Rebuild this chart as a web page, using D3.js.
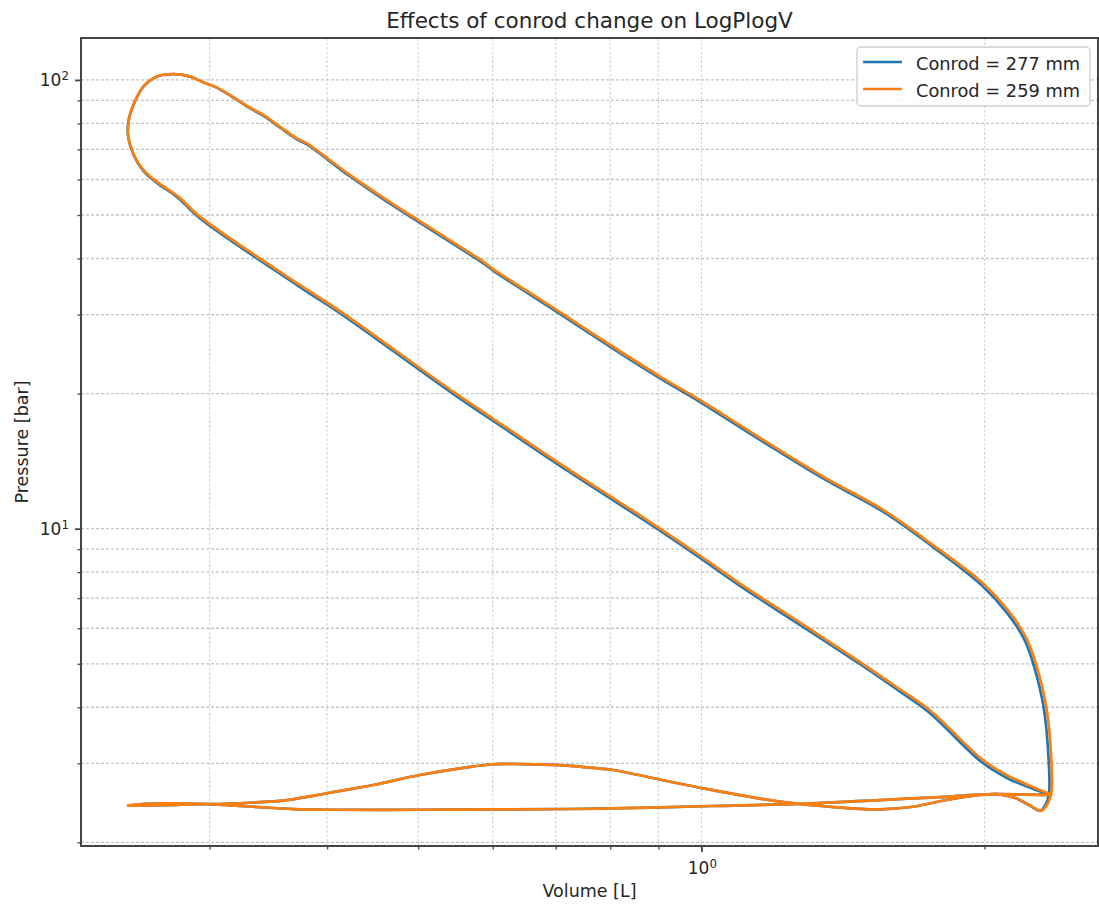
<!DOCTYPE html>
<html>
<head>
<meta charset="utf-8">
<script src="https://cdn.jsdelivr.net/npm/d3@7/dist/d3.min.js"></script>
<style>
  body { margin: 0; background: #fff; }
  svg { display: block; }
  text { font-family: "DejaVu Sans", sans-serif; fill: #262626; }
</style>
</head>
<body>
<svg id="chart" width="1099" height="909"></svg>
<script>
// One engine cycle per series, in crank order:
// intake, compression, combustion + expansion, blowdown and exhaust.

// Conrod = 259 mm
const volume259 = [
  0.2458, 0.2701, 0.3027, 0.3338, 0.3681, 0.4060, 0.5020, 0.6005, 0.7796, 1.029, 1.314, 1.547, 1.821, 2.009, 2.345,
  2.355, 2.127, 1.992, 1.748, 1.624, 1.485, 1.325, 1.098, 0.9879, 0.8813, 0.7244, 0.6256, 0.5445, 0.4160, 0.3742,
  0.2930, 0.2779, 0.2636, 0.2551, 0.2489, 0.2458, 0.2464,
  0.2499, 0.2551, 0.2636, 0.2745, 0.2859, 0.2953, 0.3040, 0.3153, 0.3285, 0.3421, 0.3564, 0.3712, 0.3804, 0.4229,
  0.4627, 0.5860, 0.6005, 0.7014, 0.8254, 0.9103, 0.9958, 1.163, 1.347, 1.560, 1.762, 1.992, 2.127, 2.215, 2.270,
  2.326, 2.355, 2.355,
  2.335, 2.298, 2.233, 2.162, 2.075, 1.976, 1.821, 1.679, 1.547, 1.369, 1.211, 1.004, 0.8055, 0.7796, 0.7071,
  0.6458, 0.6005, 0.5631, 0.5020, 0.4477, 0.4027, 0.3625, 0.3311, 0.3027, 0.2701, 0.2530, 0.2458
];
const pressure259 = [
  2.414, 2.422, 2.431, 2.401, 2.373, 2.364, 2.364, 2.369, 2.377, 2.410, 2.443, 2.485, 2.527, 2.559, 2.550,
  2.550, 2.801, 3.051, 3.944, 4.393, 4.994, 5.847, 7.553, 8.816, 10.36, 13.51, 16.60, 20.20, 30.20, 34.92,
  49.59, 54.95, 59.34, 63.01, 68.66, 75.42, 82.17,
  89.50, 96.62, 101.7, 102.97, 101.7, 98.83, 96.62, 92.60, 87.60, 83.56, 78.70, 74.16, 72.28, 61.42,
  54.03, 39.37, 37.90, 30.72, 24.60, 21.63, 19.36, 15.77, 13.06, 11.01, 9.199, 7.553, 6.505, 5.707, 4.968,
  4.011, 3.051, 2.572,
  2.443, 2.352, 2.422, 2.507, 2.559, 2.550, 2.485, 2.401, 2.369, 2.401, 2.464, 2.639, 2.899, 2.921, 2.974,
  2.989, 2.986, 2.939, 2.826, 2.684, 2.580, 2.485, 2.451, 2.435, 2.443, 2.431, 2.414
];

// Conrod = 277 mm
const volume277 = [
  0.2458, 0.2701, 0.3027, 0.3338, 0.3681, 0.4060, 0.5020, 0.6005, 0.7796, 1.029, 1.314, 1.547, 1.821, 2.009, 2.335,
  2.340, 2.115, 1.985, 1.745, 1.622, 1.483, 1.323, 1.097, 0.9870, 0.8805, 0.7238, 0.6251, 0.5441, 0.4157, 0.3740,
  0.2929, 0.2778, 0.2635, 0.2550, 0.2488, 0.2457, 0.2463,
  0.2499, 0.2551, 0.2636, 0.2745, 0.2859, 0.2953, 0.3040, 0.3153, 0.3285, 0.3421, 0.3564, 0.3712, 0.3804, 0.4229,
  0.4627, 0.5860, 0.6005, 0.7014, 0.8254, 0.9103, 0.9958, 1.163, 1.347, 1.560, 1.762, 1.985, 2.118, 2.205, 2.258,
  2.312, 2.340, 2.342,
  2.325, 2.292, 2.230, 2.160, 2.075, 1.976, 1.821, 1.679, 1.547, 1.369, 1.211, 1.004, 0.8055, 0.7796, 0.7071,
  0.6458, 0.6005, 0.5631, 0.5020, 0.4477, 0.4027, 0.3625, 0.3311, 0.3027, 0.2701, 0.2530, 0.2458
];
const pressure277 = [
  2.414, 2.422, 2.431, 2.401, 2.373, 2.364, 2.364, 2.369, 2.377, 2.410, 2.443, 2.485, 2.527, 2.559, 2.550,
  2.550, 2.780, 3.020, 3.900, 4.350, 4.950, 5.790, 7.480, 8.730, 10.26, 13.38, 16.44, 20.00, 29.92, 34.60,
  49.20, 54.60, 59.05, 62.80, 68.50, 75.30, 82.10,
  89.50, 96.62, 101.7, 102.97, 101.7, 98.83, 96.50, 92.40, 87.35, 83.25, 78.35, 73.80, 71.90, 61.00,
  53.60, 39.05, 37.60, 30.45, 24.38, 21.44, 19.18, 15.62, 12.94, 10.91, 9.110, 7.490, 6.450, 5.660, 4.930,
  3.980, 3.030, 2.570,
  2.440, 2.352, 2.422, 2.507, 2.559, 2.550, 2.485, 2.401, 2.369, 2.401, 2.464, 2.639, 2.899, 2.921, 2.974,
  2.989, 2.986, 2.939, 2.826, 2.684, 2.580, 2.485, 2.451, 2.435, 2.443, 2.431, 2.414
];

const seriesLabels = ["Conrod = 277 mm", "Conrod = 259 mm"];
const seriesColors = ["#1f77b4", "#ff7f0e"];

const xMajorTicks = [1];
const xMinorTicks = [0.3, 0.4, 0.5, 0.6, 0.7, 0.8, 0.9, 2];
const yMajorTicks = [10, 100];
const yMinorTicks = [2, 3, 4, 5, 6, 7, 8, 9, 20, 30, 40, 50, 60, 70, 80, 90];

const titleText = "Effects of conrod change on LogPlogV";
const xLabelText = "Volume [L]";
const yLabelText = "Pressure [bar]";

// ---- layout ----
const plot = { left: 81, right: 1098, top: 38, bottom: 846 };
const svg = d3.select("#chart");

const x = d3.scaleLog().domain([0.219, 2.64]).range([plot.left, plot.right]);
const y = d3.scaleLog().domain([1.963, 124]).range([plot.bottom, plot.top]);

// grid
const grid = svg.append("g");
grid.selectAll("line.gx")
  .data(xMajorTicks.concat(xMinorTicks))
  .join("line")
  .attr("x1", d => x(d)).attr("x2", d => x(d))
  .attr("y1", plot.top).attr("y2", plot.bottom)
  .attr("stroke", "#d4d4d4").attr("stroke-width", 1.2)
  .attr("stroke-dasharray", "2.5,2");
grid.selectAll("line.gy")
  .data(yMajorTicks.concat(yMinorTicks))
  .join("line")
  .attr("x1", plot.left).attr("x2", plot.right)
  .attr("y1", d => y(d)).attr("y2", d => y(d))
  .attr("stroke", "#c4c4c4").attr("stroke-width", 1.3)
  .attr("stroke-dasharray", "3,2");

// data
svg.append("defs").append("clipPath").attr("id", "plotClip")
  .append("rect")
  .attr("x", plot.left).attr("y", plot.top)
  .attr("width", plot.right - plot.left).attr("height", plot.bottom - plot.top);

const line = d3.line()
  .x(d => x(d[0]))
  .y(d => y(d[1]))
  .curve(d3.curveCatmullRom.alpha(0.5));

const series = [
  d3.zip(volume277, pressure277),
  d3.zip(volume259, pressure259)
];

svg.append("g").attr("clip-path", "url(#plotClip)")
  .selectAll("path")
  .data(series)
  .join("path")
  .attr("d", line)
  .attr("fill", "none")
  .attr("stroke", (d, i) => seriesColors[i])
  .attr("stroke-width", 2.7)
  .attr("stroke-linejoin", "round")
  .attr("stroke-linecap", "round");

// frame
svg.append("rect")
  .attr("x", plot.left).attr("y", plot.top)
  .attr("width", plot.right - plot.left).attr("height", plot.bottom - plot.top)
  .attr("fill", "none").attr("stroke", "#454545").attr("stroke-width", 2);

// axes
const xAxisMajor = d3.axisBottom(x).tickValues(xMajorTicks).tickSize(6).tickFormat("");
const xAxisMinor = d3.axisBottom(x).tickValues(xMinorTicks).tickSize(3.5).tickFormat("");
const yAxisMajor = d3.axisLeft(y).tickValues(yMajorTicks).tickSize(6).tickFormat("");
const yAxisMinor = d3.axisLeft(y).tickValues(yMinorTicks).tickSize(3.5).tickFormat("");

function styleAxis(g, w) {
  g.select(".domain").remove();
  g.selectAll(".tick line").attr("stroke", "#454545").attr("stroke-width", w);
}
svg.append("g").attr("transform", `translate(0,${plot.bottom})`).call(xAxisMajor).call(g => styleAxis(g, 1.8));
svg.append("g").attr("transform", `translate(0,${plot.bottom})`).call(xAxisMinor).call(g => styleAxis(g, 1.3));
svg.append("g").attr("transform", `translate(${plot.left},0)`).call(yAxisMajor).call(g => styleAxis(g, 1.8));
svg.append("g").attr("transform", `translate(${plot.left},0)`).call(yAxisMinor).call(g => styleAxis(g, 1.3));

// tick labels as 10^n
function powerLabel(sel, v) {
  const n = Math.round(Math.log10(v));
  sel.append("tspan").text("10");
  sel.append("tspan").attr("dy", "-0.5em").attr("font-size", "0.7em").text(n);
}
yMajorTicks.forEach(v => {
  svg.append("text")
    .attr("x", plot.left - 12).attr("y", y(v) + 6)
    .attr("text-anchor", "end").attr("font-size", 17)
    .call(powerLabel, v);
});
xMajorTicks.forEach(v => {
  svg.append("text")
    .attr("x", x(v) + 1).attr("y", plot.bottom + 28)
    .attr("text-anchor", "middle").attr("font-size", 17)
    .call(powerLabel, v);
});

// titles
svg.append("text")
  .attr("x", (plot.left + plot.right) / 2).attr("y", 28)
  .attr("text-anchor", "middle").attr("font-size", 21.5)
  .text(titleText);
svg.append("text")
  .attr("x", (plot.left + plot.right) / 2).attr("y", 897)
  .attr("text-anchor", "middle").attr("font-size", 17.5)
  .text(xLabelText);
svg.append("text")
  .attr("transform", `translate(28,${(plot.top + plot.bottom) / 2}) rotate(-90)`)
  .attr("text-anchor", "middle").attr("font-size", 17.5)
  .text(yLabelText);

// legend
const legend = svg.append("g");
legend.append("rect")
  .attr("x", 857).attr("y", 47).attr("width", 233).attr("height", 59).attr("rx", 4)
  .attr("fill", "#fff").attr("fill-opacity", 0.85)
  .attr("stroke", "#d0d0d0").attr("stroke-width", 1.3);
seriesLabels.forEach((label, i) => {
  const yy = 62 + i * 27;
  legend.append("line")
    .attr("x1", 863).attr("x2", 902).attr("y1", yy).attr("y2", yy)
    .attr("stroke", seriesColors[i]).attr("stroke-width", 2.7);
  legend.append("text")
    .attr("x", 916).attr("y", yy + 7.5)
    .attr("font-size", 17.8)
    .text(label);
});
</script>
</body>
</html>
